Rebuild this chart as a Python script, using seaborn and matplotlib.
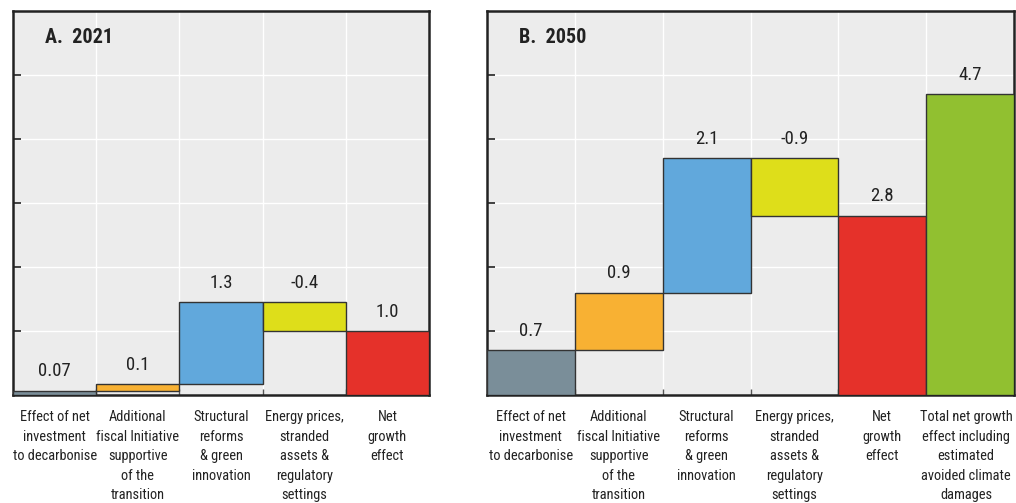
import matplotlib
matplotlib.use("Agg")
import matplotlib.pyplot as plt
import matplotlib.transforms as mtransforms
import seaborn as sns
import numpy as np
from matplotlib.ticker import FixedLocator

# ---------------- data ----------------
cats_a = ["Effect of net\ninvestment\nto decarbonise",
          "Additional\nfiscal Initiative\nsupportive\nof the\ntransition",
          "Structural\nreforms\n& green\ninnovation",
          "Energy prices,\nstranded\nassets &\nregulatory\nsettings",
          "Net\ngrowth\neffect"]
vals_a = [0.07, 0.10, 1.28, -0.45, 1.00]
labels_a = ["0.07", "0.1", "1.3", "-0.4", "1.0"]
total_a = [False, False, False, False, True]

cats_b = ["Effect of net\ninvestment\nto decarbonise",
          "Additional\nfiscal Initiative\nsupportive\nof the\ntransition",
          "Structural\nreforms\n& green\ninnovation",
          "Energy prices,\nstranded\nassets &\nregulatory\nsettings",
          "Net\ngrowth\neffect",
          "Total net growth\neffect including\nestimated\navoided climate\ndamages"]
vals_b = [0.70, 0.90, 2.10, -0.90, 2.80, 4.70]
labels_b = ["0.7", "0.9", "2.1", "-0.9", "2.8", "4.7"]
total_b = [False, False, False, False, True, True]

colors_a = ["#7A8E99", "#F8B133", "#61A8DC", "#DEDE1A", "#E5312A"]
colors_b = ["#7A8E99", "#F8B133", "#61A8DC", "#DEDE1A", "#E5312A", "#91C030"]

titles = ["A.  2021", "B.  2050"]
y_ticks = [1, 2, 3, 4, 5]

# ---------------- style ----------------
sns.set_theme(style="white")
plt.rcParams["font.family"] = ["Roboto Condensed", "Liberation Sans Narrow", "Arial Narrow",
                               "Liberation Sans", "DejaVu Sans"]

fig = plt.figure(figsize=(10.16, 5.03), dpi=100)
W, H = 1016, 503
ax_a = fig.add_axes([13 / W, (H - 395) / H, (429 - 13) / W, (395 - 11) / H])
ax_b = fig.add_axes([487 / W, (H - 395) / H, (1014 - 487) / W, (395 - 11) / H])


def waterfall(ax, cats, vals, labels, totals, colors, title):
    bottoms, heights = [], []
    running = 0.0
    for v, t in zip(vals, totals):
        if t:
            bottoms.append(0.0)
            heights.append(v)
        else:
            new = running + v
            bottoms.append(min(running, new))
            heights.append(abs(v))
            running = new
    sns.barplot(x=cats, y=heights, hue=cats, palette=colors, legend=False,
                width=1.0, edgecolor="#333333", linewidth=1.0, ax=ax,
                saturation=1, zorder=3)
    for p, b in zip(ax.patches, bottoms):
        p.set_y(b)
    ax.set_facecolor("#ECECEC")
    ax.set_ylim(0, 6)
    n = len(cats)
    ax.set_xlim(-0.5, n - 0.5)
    ax.set_yticks(y_ticks)
    ax.set_yticklabels([])
    ax.tick_params(axis="y", direction="in", length=6, width=1.2, color="#222222", left=True)
    ax.set_xticks(range(n))
    ax.set_xticklabels(cats, fontsize=10.4, color="#222222", linespacing=1.5, va="top")
    ax.tick_params(axis="x", which="major", length=0, pad=11)
    ax.xaxis.set_minor_locator(FixedLocator([i + 0.5 for i in range(n - 1)]))
    ax.tick_params(axis="x", which="minor", direction="in", length=4, width=1.0,
                   color="#555555", bottom=True)
    ax.grid(axis="y", which="major", color="white", linewidth=1.0, zorder=0)
    ax.grid(axis="x", which="minor", color="white", linewidth=1.0, zorder=0)
    ax.grid(axis="x", which="major", visible=False)
    ax.set_axisbelow(True)
    for s in ax.spines.values():
        s.set_visible(True)
        s.set_color("#222222")
        s.set_linewidth(1.8)
    ax.set_xlabel("")
    ax.set_ylabel("")
    for i, (p, lab) in enumerate(zip(ax.patches, labels)):
        top = p.get_y() + p.get_height()
        ax.annotate(lab, (i, top), xytext=(0, 14), textcoords="offset points",
                    ha="center", va="center", fontsize=13.5, color="#222222", zorder=5)
    off = mtransforms.offset_copy(ax.transAxes, fig=fig, x=32 / 100 * 72, y=-26 / 100 * 72, units="points")
    ax.text(0, 1, title, transform=off, ha="left", va="center", fontsize=14.5,
            fontweight="bold", color="#222222")


waterfall(ax_a, cats_a, vals_a, labels_a, total_a, colors_a, titles[0])
waterfall(ax_b, cats_b, vals_b, labels_b, total_b, colors_b, titles[1])

# nudge the right-most category label slightly left so it stays inside the canvas
last = ax_b.get_xticklabels()[-1]
last.set_transform(last.get_transform() + mtransforms.ScaledTranslation(-4 / 100, 0, fig.dpi_scale_trans))

fig.savefig("out.png", dpi=100)
